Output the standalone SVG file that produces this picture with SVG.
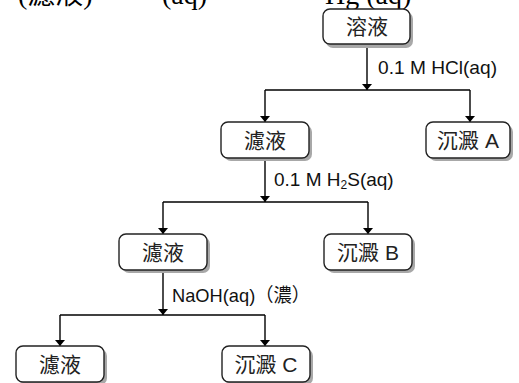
<svg xmlns="http://www.w3.org/2000/svg" width="519" height="383" viewBox="0 0 519 383">
<defs>
<marker id="ah" viewBox="0 0 6 10" refX="6" refY="5" markerWidth="6" markerHeight="10" markerUnits="userSpaceOnUse" orient="auto">
<path d="M0,0 L6,5 L0,10 z" fill="#000"/>
</marker>
<style>
.sh{fill:#a8a8a8;}
.bx{fill:#fff;stroke:#222;stroke-width:1.4;}
.t{font-family:"Liberation Sans","Noto Sans CJK TC",sans-serif;font-size:21px;fill:#222;text-anchor:middle;}
.lb{font-family:"Liberation Sans","Noto Sans CJK TC",sans-serif;font-size:19px;fill:#111;}
.ln{fill:none;stroke:#000;stroke-width:1.4;}
.top{font-family:"Liberation Serif","Noto Sans CJK TC",serif;font-size:28px;fill:#000;}
</style>
</defs>
<rect width="519" height="383" fill="#fff"/>
<g id="cut-top">
<text class="top" x="18" y="4">(濾液)</text>
<text class="top" x="162" y="4">(aq)</text>
<text class="top" x="325" y="4">Hg (aq)</text>
</g>
<g id="connectors">
<line class="ln" x1="367" y1="44" x2="367" y2="90" marker-end="url(#ah)"/>
<polyline class="ln" points="265,90 470,90"/>
<line class="ln" x1="265" y1="90" x2="265" y2="122" marker-end="url(#ah)"/>
<line class="ln" x1="470" y1="90" x2="470" y2="122" marker-end="url(#ah)"/>
<line class="ln" x1="265" y1="158" x2="265" y2="202" marker-end="url(#ah)"/>
<polyline class="ln" points="163,202 368,202"/>
<line class="ln" x1="163" y1="202" x2="163" y2="234" marker-end="url(#ah)"/>
<line class="ln" x1="368" y1="202" x2="368" y2="234" marker-end="url(#ah)"/>
<line class="ln" x1="163" y1="270" x2="163" y2="315" marker-end="url(#ah)"/>
<polyline class="ln" points="60,315 265,315"/>
<line class="ln" x1="60" y1="315" x2="60" y2="346" marker-end="url(#ah)"/>
<line class="ln" x1="265" y1="315" x2="265" y2="346" marker-end="url(#ah)"/>
<text class="lb" x="378" y="74" textLength="119" lengthAdjust="spacingAndGlyphs">0.1 M HCl(aq)</text>
<text class="lb" x="274" y="186">0.1 M H<tspan font-size="12" dy="3">2</tspan><tspan dy="-3">S(aq)</tspan></text>
<text class="lb" x="172" y="302" textLength="138" lengthAdjust="spacingAndGlyphs">NaOH(aq)（濃）</text>
</g>
<g id="n-solution">
<rect class="sh" x="326" y="12" width="87" height="36" rx="7"/>
<rect class="bx" x="323" y="9" width="87" height="35" rx="7"/>
<text class="t" x="367" y="34">溶液</text>
</g>
<g id="n-filtrate1">
<rect class="sh" x="224" y="125" width="88" height="36" rx="7"/>
<rect class="bx" x="221" y="122" width="88" height="36" rx="7"/>
<text class="t" x="265" y="148">濾液</text>
</g>
<g id="n-pptA">
<rect class="sh" x="429" y="125" width="84" height="36" rx="7"/>
<rect class="bx" x="426" y="122" width="84" height="36" rx="7"/>
<text class="t" x="468" y="148">沉澱 A</text>
</g>
<g id="n-filtrate2">
<rect class="sh" x="122" y="237" width="88" height="36" rx="7"/>
<rect class="bx" x="119" y="234" width="88" height="36" rx="7"/>
<text class="t" x="163" y="260">濾液</text>
</g>
<g id="n-pptB">
<rect class="sh" x="327" y="237" width="88" height="36" rx="7"/>
<rect class="bx" x="324" y="234" width="88" height="36" rx="7"/>
<text class="t" x="368" y="260">沉澱 B</text>
</g>
<g id="n-filtrate3">
<rect class="sh" x="19" y="349" width="88" height="36" rx="7"/>
<rect class="bx" x="16" y="346" width="88" height="36" rx="7"/>
<text class="t" x="60" y="372">濾液</text>
</g>
<g id="n-pptC">
<rect class="sh" x="225" y="349" width="88" height="36" rx="7"/>
<rect class="bx" x="222" y="346" width="88" height="36" rx="7"/>
<text class="t" x="266" y="372">沉澱 C</text>
</g>
</svg>
